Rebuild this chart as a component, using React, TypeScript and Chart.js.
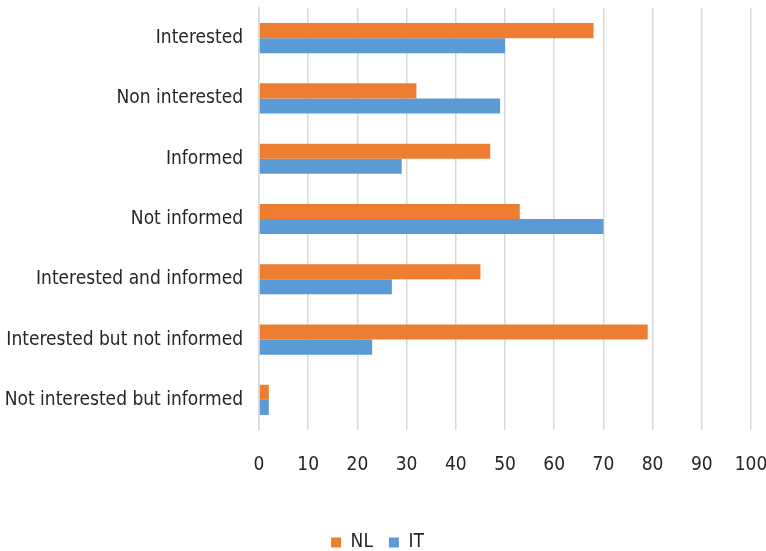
import React, { useEffect, useRef } from "react";
import { Chart, registerables } from "chart.js";

Chart.register(...registerables);

const categories = [
  "Interested",
  "Non interested",
  "Informed",
  "Not informed",
  "Interested and informed",
  "Interested but not informed",
  "Not interested but informed",
];
const nlValues = [68, 32, 47, 53, 45, 79, 2];
const itValues = [50, 49, 29, 70, 27, 23, 2];
const seriesNames = ["NL", "IT"];
const seriesColors = ["#ED7D31", "#5B9BD5"];

const FONT = "'Liberation Sans Narrow', 'DejaVu Sans Condensed', sans-serif";
const TEXT = "#262626";

export default function App() {
  const ref = useRef<HTMLCanvasElement | null>(null);
  useEffect(() => {
    if (!ref.current) return;
    const chart = new Chart(ref.current, {
      type: "bar",
      data: {
        labels: categories,
        datasets: [
          { label: seriesNames[0], data: nlValues, backgroundColor: seriesColors[0] },
          { label: seriesNames[1], data: itValues, backgroundColor: seriesColors[1] },
        ],
      },
      options: {
        indexAxis: "y",
        animation: false,
        responsive: false,
        maintainAspectRatio: false,
        layout: { padding: { left: 4, right: 15, top: 8, bottom: -11 } },
        datasets: { bar: { categoryPercentage: 0.5, barPercentage: 1 } },
        scales: {
          x: {
            min: 0,
            max: 100,
            ticks: { stepSize: 10, color: TEXT, font: { family: FONT, size: 19 }, padding: 24 },
            grid: { color: "#d9d9d9", lineWidth: 1.5, drawTicks: false },
            border: { display: false },
            afterFit: (s: any) => {
              s.height = 87;
              s.paddingLeft = 0;
              s.paddingRight = 0;
            },
          },
          y: {
            ticks: { color: TEXT, font: { family: FONT, size: 19 }, padding: 16 },
            grid: { display: false, drawTicks: false },
            border: { display: true, color: "#d9d9d9", width: 1.5 },
            afterFit: (s: any) => {
              s.width = 255;
              s.paddingTop = 0;
              s.paddingBottom = 0;
            },
          },
        },
        plugins: {
          legend: {
            position: "bottom",
            labels: {
              boxWidth: 10,
              boxHeight: 10,
              color: TEXT,
              font: { family: FONT, size: 19 },
              padding: 16,
            },
          },
          tooltip: { enabled: false },
        },
      },
    });
    return () => chart.destroy();
  }, []);
  return (
    <div style={{ position: "fixed", left: 0, top: 0, width: 766, height: 551, background: "#fff" }}>
      <canvas ref={ref} width={766} height={551} />
    </div>
  );
}
